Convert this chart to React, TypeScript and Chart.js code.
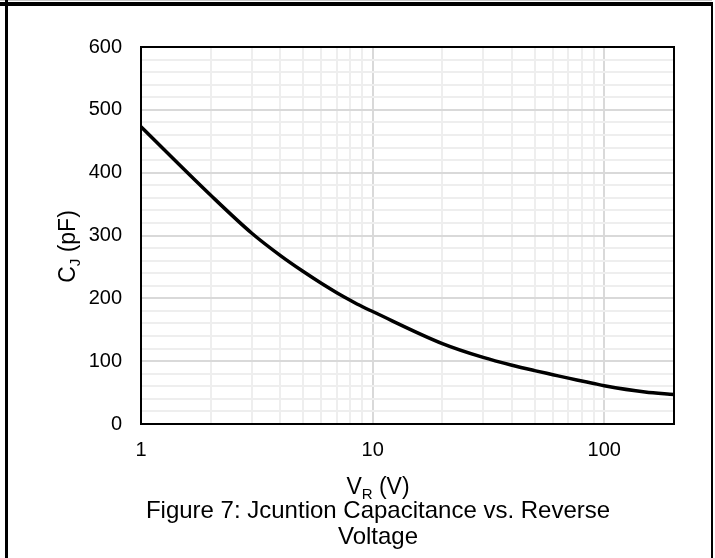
import React, { useEffect, useRef } from "react";
import { Chart, registerables } from "chart.js";

Chart.register(...registerables);

// ---- data ----
const VR = [1, 2, 3, 4, 5, 6, 7, 8, 9, 10, 20, 30, 40, 50, 60, 70, 80, 90, 100, 150, 200];
const CJ = [473, 364, 304, 268, 243, 224, 209, 197, 187, 179, 128, 106, 93.5, 85, 78.5, 73, 68.5, 64.5, 61, 51, 47];

// ---- axes ----
const X_GRID = [1, 2, 3, 4, 5, 6, 7, 8, 9, 10, 20, 30, 40, 50, 60, 70, 80, 90, 100, 200];
const X_LABELED = [1, 10, 100];
const Y_GRID = [0, 20, 40, 60, 80, 100, 120, 140, 160, 180, 200, 220, 240, 260, 280, 300, 320, 340, 360, 380, 400, 420, 440, 460, 480, 500, 520, 540, 560, 580, 600];
const Y_LABELED = [0, 100, 200, 300, 400, 500, 600];

// ---- texts ----
const Y_TITLE = [{ text: "C" }, { text: "J", sub: true }, { text: " (pF)" }];
const X_TITLE = [{ text: "V" }, { text: "R", sub: true }, { text: " (V)" }];
const CAPTION = ["Figure 7: Jcuntion Capacitance vs. Reverse", "Voltage"];

const FONT = '"Liberation Sans", Arial, Helvetica, sans-serif';

type Part = { text: string; sub?: boolean };

function drawRich(ctx: CanvasRenderingContext2D, parts: Part[], size: number, cx: number, baseY: number, rot: number) {
  ctx.save();
  ctx.translate(cx, baseY);
  ctx.rotate(rot);
  const subSize = Math.round(size * 0.65);
  const widths = parts.map((p) => {
    ctx.font = `${p.sub ? subSize : size}px ${FONT}`;
    return ctx.measureText(p.text).width;
  });
  const total = widths.reduce((a, b) => a + b, 0);
  let x = -total / 2;
  ctx.fillStyle = "#000";
  ctx.textAlign = "left";
  ctx.textBaseline = "alphabetic";
  parts.forEach((p, i) => {
    ctx.font = `${p.sub ? subSize : size}px ${FONT}`;
    ctx.fillText(p.text, x, p.sub ? size * 0.22 : 0);
    x += widths[i];
  });
  ctx.restore();
}

const decorPlugin = {
  id: "decor",
  afterDraw(chart: any) {
    const { ctx, chartArea } = chart;
    const { left, right, top, bottom } = chartArea;
    ctx.save();
    ctx.strokeStyle = "#000";
    ctx.lineWidth = 2;
    ctx.strokeRect(left, top, right - left, bottom - top);
    ctx.restore();

    // y-axis title (rotated)
    drawRich(ctx, Y_TITLE, 23, left - 66, (top + bottom) / 2 + 11, -Math.PI / 2);
    // x-axis title
    drawRich(ctx, X_TITLE, 23, 378, bottom + 70, 0);
    // caption
    ctx.save();
    ctx.fillStyle = "#000";
    ctx.textAlign = "center";
    ctx.textBaseline = "alphabetic";
    ctx.font = `24px ${FONT}`;
    CAPTION.forEach((line, i) => {
      ctx.fillText(line, 378, bottom + 94 + i * 26);
    });
    ctx.restore();
  },
};

export default function App() {
  const ref = useRef<HTMLCanvasElement | null>(null);

  useEffect(() => {
    if (!ref.current) return;
    const chart = new Chart(ref.current, {
      type: "line",
      data: {
        datasets: [
          {
            data: VR.map((v, i) => ({ x: v, y: CJ[i] })),
            borderColor: "#000",
            borderWidth: 3.5,
            pointRadius: 0,
            fill: false,
            cubicInterpolationMode: "monotone",
          },
        ],
      },
      options: {
        animation: false,
        responsive: true,
        maintainAspectRatio: false,
        layout: { padding: { top: 47, right: 41, left: 0, bottom: 0 } },
        plugins: { legend: { display: false }, tooltip: { enabled: false }, title: { display: false } },
        scales: {
          x: {
            type: "logarithmic",
            min: 1,
            max: 200,
            afterBuildTicks: (s: any) => {
              s.ticks = X_GRID.map((v) => ({ value: v }));
            },
            afterFit: (s: any) => {
              s.height = 134;
            },
            grid: {
              drawTicks: false,
              lineWidth: 2,
              color: (c: any) => (c.tick && X_LABELED.includes(c.tick.value) ? "#d9d9d9" : "#eeeeee"),
            },
            border: { display: false },
            ticks: {
              autoSkip: false,
              maxRotation: 0,
              padding: 14,
              color: "#000",
              font: { family: FONT, size: 20 },
              callback: (v: any) => (X_LABELED.includes(Number(v)) ? String(v) : ""),
            },
          },
          y: {
            type: "linear",
            min: 0,
            max: 600,
            afterBuildTicks: (s: any) => {
              s.ticks = Y_GRID.map((v) => ({ value: v }));
            },
            afterFit: (s: any) => {
              s.width = 141;
            },
            grid: {
              drawTicks: false,
              lineWidth: 2,
              color: (c: any) => (c.tick && Y_LABELED.includes(c.tick.value) ? "#d9d9d9" : "#eeeeee"),
            },
            border: { display: false },
            ticks: {
              autoSkip: false,
              padding: 19,
              color: "#000",
              font: { family: FONT, size: 20 },
              callback: (v: any) => (Y_LABELED.includes(Number(v)) ? String(v) : ""),
            },
          },
        },
      },
      plugins: [decorPlugin],
    } as any);
    return () => chart.destroy();
  }, []);

  return (
    <div style={{ position: "fixed", left: 0, top: 0, width: 715, height: 558, background: "#fff", overflow: "hidden" }}>
      <div style={{ position: "absolute", left: 0, top: 0, width: 712, height: 1, background: "#c8c8c8" }} />
      <div style={{ position: "absolute", left: 0, top: 2, width: 713, height: 4, background: "#000" }} />
      <div style={{ position: "absolute", left: 5, top: 0, width: 3, height: 558, background: "#000" }} />
      <div style={{ position: "absolute", left: 711, top: 2, width: 2, height: 556, background: "#000" }} />
      <div style={{ position: "absolute", left: 0, top: 0, width: 715, height: 558 }}>
        <canvas ref={ref} />
      </div>
    </div>
  );
}
